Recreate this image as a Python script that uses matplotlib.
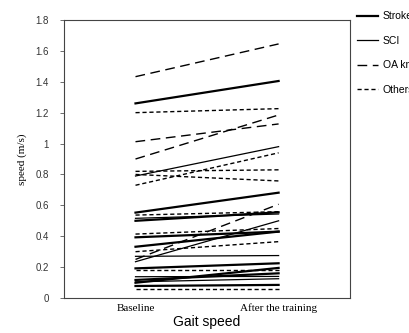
import matplotlib
matplotlib.use("Agg")
import matplotlib.pyplot as plt

# Gait speed (m/s) at baseline and after the training, one pair per participant
stroke_base = [1.26, 0.553, 0.50, 0.393, 0.332, 0.192, 0.117, 0.099, 0.078]
stroke_after = [1.405, 0.682, 0.555, 0.43, 0.43, 0.225, 0.16, 0.195, 0.085]

sci_base = [0.79, 0.516, 0.235, 0.27, 0.138, 0.105]
sci_after = [0.98, 0.544, 0.50, 0.275, 0.14, 0.125]

oa_base = [1.433, 1.012, 0.90, 0.25]
oa_after = [1.645, 1.127, 1.185, 0.607]

other_base = [1.20, 0.82, 0.80, 0.73, 0.537, 0.414, 0.30, 0.18, 0.056]
other_after = [1.226, 0.83, 0.758, 0.94, 0.559, 0.45, 0.365, 0.18, 0.056]

time_labels = ["Baseline", "After the training"]
group_labels = ["Stroke", "SCI", "OA knee", "Others"]
y_ticks = [0, 0.2, 0.4, 0.6, 0.8, 1.0, 1.2, 1.4, 1.6, 1.8]
y_tick_labels = ["0", "0.2", "0.4", "0.6", "0.8", "1", "1.2", "1.4", "1.6", "1.8"]

fig = plt.figure(figsize=(4.10, 3.33), dpi=100)
ax = fig.add_axes([0.156, 0.105, 0.698, 0.835])

xs = [0, 1]
styles = [
    dict(color="black", lw=1.6, ls="-"),
    dict(color="black", lw=0.9, ls="-"),
    dict(color="black", lw=1.0, ls=(0, (7, 4))),
    dict(color="black", lw=1.0, ls=(0, (3, 2))),
]
groups = [
    (stroke_base, stroke_after),
    (sci_base, sci_after),
    (oa_base, oa_after),
    (other_base, other_after),
]

handles = []
for (base, after), st, lab in zip(groups, styles, group_labels):
    for b, a in zip(base, after):
        h, = ax.plot(xs, [b, a], **st)
    h.set_label(lab)
    handles.append(h)

ax.set_xlim(-0.5, 1.5)
ax.set_ylim(0, 1.8)
ax.set_yticks(y_ticks)
ax.set_yticklabels(y_tick_labels, family="Liberation Sans", fontsize=7, color="#333333")
ax.set_xticks(xs)
ax.set_xticklabels(time_labels, family="Liberation Serif", fontsize=8)
ax.tick_params(axis="x", length=0, pad=4)
ax.tick_params(axis="y", length=3, width=0.6, color="#555555", pad=8)
for s in ax.spines.values():
    s.set_linewidth(0.8)
    s.set_color("#444444")

ax.set_ylabel("speed (m/s)", family="Liberation Serif", fontsize=8, labelpad=6)
ax.set_xlabel("Gait speed", family="Liberation Sans", fontsize=10, labelpad=1)

# legend to the right of the plot box, running past the figure edge
fig.legend(handles=handles, loc="upper left", bbox_to_anchor=(0.855, 0.985),
           frameon=False, prop={"family": "Liberation Sans", "size": 7.5},
           handlelength=2.0, handletextpad=0.5, labelspacing=1.4,
           borderaxespad=0.2)

fig.savefig("out.png", dpi=100)
